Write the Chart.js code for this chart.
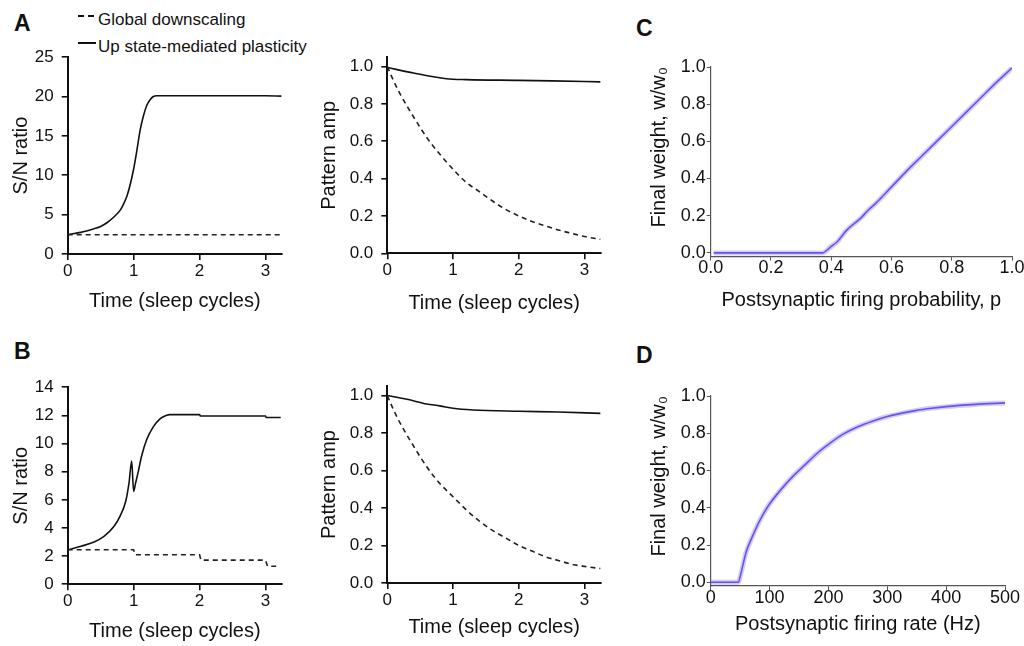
<!DOCTYPE html>
<html>
<head>
<meta charset="utf-8">
<script src="https://cdn.jsdelivr.net/npm/chart.js@4.4.0/dist/chart.umd.min.js"></script>
<style>
  html, body { margin: 0; padding: 0; background: #fff; overflow: hidden; }
  body { width: 1024px; height: 646px; position: relative; font-family: "Liberation Sans", Arial, sans-serif; color: #111; }
  canvas { position: absolute; }
  .letter { position: absolute; font-weight: bold; font-size: 23px; line-height: 1; }
  .leg { position: absolute; font-size: 17px; line-height: 1; white-space: nowrap; }
</style>
</head>
<body>
<div class="letter" style="left:14px;top:12px">A</div>
<div class="letter" style="left:14px;top:340px">B</div>
<div class="letter" style="left:636px;top:17px">C</div>
<div class="letter" style="left:636px;top:344px">D</div>

<div class="leg" style="left:98px;top:11px">Global downscaling</div>
<svg style="position:absolute;left:76px;top:12px" width="22" height="8"><line x1="2" y1="4" x2="20" y2="4" stroke="#111" stroke-width="2" stroke-dasharray="6,4"/></svg>
<div class="leg" style="left:98px;top:38px">Up state-mediated plasticity</div>
<svg style="position:absolute;left:76px;top:39px" width="22" height="8"><line x1="2" y1="4" x2="20" y2="4" stroke="#111" stroke-width="2"/></svg>

<canvas id="aLeft"></canvas>
<canvas id="aRight"></canvas>
<canvas id="bLeft"></canvas>
<canvas id="bRight"></canvas>
<canvas id="cPlot"></canvas>
<canvas id="dPlot"></canvas>

<script>
// ---- data ----
// A, S/N ratio
const timeA_up = [0, 0.1, 0.2, 0.3, 0.4, 0.5, 0.6, 0.7, 0.8, 0.85, 0.9, 0.95, 1.0, 1.05, 1.1, 1.15, 1.2, 1.25, 1.3, 1.35, 1.5, 2.0, 2.5, 3.0, 3.24];
const snA_up = [2.45, 2.6, 2.75, 2.95, 3.2, 3.5, 4.0, 4.7, 5.6, 6.4, 7.4, 8.9, 10.8, 13.2, 15.8, 17.6, 18.9, 19.6, 20.0, 20.1, 20.1, 20.1, 20.1, 20.1, 20.05];
const timeA_global = [0, 1, 2, 3, 3.24];
const snA_global = [2.45, 2.45, 2.45, 2.45, 2.45];

// A, pattern amplitude
const timeA_ampUp = [0, 0.4, 0.9, 1.2, 2.0, 2.5, 3.24];
const ampA_up = [0.995, 0.965, 0.935, 0.93, 0.926, 0.923, 0.918];
const timeAmpGlobal = [0, 0.1, 0.2, 0.4, 0.6, 0.8, 1.0, 1.2, 1.4, 1.6, 1.8, 2.0, 2.2, 2.4, 2.6, 2.8, 3.0, 3.24];
const ampA_global = [1.0, 0.92, 0.85, 0.73, 0.62, 0.53, 0.45, 0.38, 0.33, 0.28, 0.235, 0.2, 0.17, 0.147, 0.125, 0.107, 0.09, 0.075];

// B, S/N ratio
const timeB_up = [0, 0.2, 0.4, 0.55, 0.7, 0.8, 0.88, 0.93, 0.97, 1.0, 1.03, 1.07, 1.12, 1.2, 1.3, 1.4, 1.5, 1.55, 2.0, 2.01, 3.0, 3.01, 3.23];
const snB_up = [2.45, 2.7, 3.0, 3.4, 4.1, 4.9, 5.9, 7.2, 8.75, 6.6, 7.2, 8.0, 9.1, 10.3, 11.2, 11.75, 12.0, 12.05, 12.05, 11.95, 11.95, 11.85, 11.85];
const timeB_global = [0, 1.0, 1.02, 2.0, 2.02, 3.0, 3.03, 3.2];
const snB_global = [2.45, 2.45, 2.1, 2.1, 1.72, 1.72, 1.28, 1.28];

// B, pattern amplitude
const timeB_ampUp = [0, 0.3, 0.6, 0.8, 1.0, 1.3, 2.0, 2.6, 3.24];
const ampB_up = [1.0, 0.98, 0.955, 0.945, 0.932, 0.923, 0.916, 0.912, 0.905];
const ampB_global = [1.0, 0.92, 0.85, 0.73, 0.62, 0.53, 0.46, 0.39, 0.33, 0.28, 0.24, 0.2, 0.17, 0.14, 0.12, 0.1, 0.088, 0.077];

// C, final weight vs firing probability
const probC = [0.01, 0.1, 0.2, 0.3, 0.37, 0.4, 0.42, 0.45, 0.5, 0.52, 0.55, 0.6, 0.65, 0.7, 0.75, 0.8, 0.85, 0.9, 0.95, 1.0];
const weightC = [0, 0, 0, 0, 0, 0.035, 0.06, 0.12, 0.19, 0.225, 0.27, 0.355, 0.44, 0.52, 0.6, 0.68, 0.76, 0.84, 0.92, 0.995];

// D, final weight vs firing rate
const rateD = [0, 20, 47, 50, 60, 70, 80, 90, 100, 120, 140, 160, 180, 200, 225, 250, 275, 300, 325, 350, 375, 400, 450, 500];
const weightD = [0, 0, 0, 0.03, 0.16, 0.24, 0.31, 0.37, 0.42, 0.5, 0.57, 0.63, 0.69, 0.74, 0.795, 0.835, 0.865, 0.89, 0.908, 0.923, 0.934, 0.943, 0.955, 0.963];

// tick labels
const ticksTime = [0, 1, 2, 3];
const ticksSnA = [0, 5, 10, 15, 20, 25];
const ticksSnB = [0, 2, 4, 6, 8, 10, 12, 14];
const ticksAmp = [0, 0.2, 0.4, 0.6, 0.8, 1.0];
const ticksProb = [0, 0.2, 0.4, 0.6, 0.8, 1.0];
const ticksRate = [0, 100, 200, 300, 400, 500];
const ticksWeight = [0, 0.2, 0.4, 0.6, 0.8, 1.0];

const FONT = "'Liberation Sans', Arial, sans-serif";
const BLUE = "#5a48ea";
const BAND = "rgba(125,110,240,0.35)";

function pts(xs, ys) {
  return xs.map((x, i) => ({x: x, y: ys[i]}));
}

function solid(xs, ys) {
  return {data: pts(xs, ys), borderColor: "#111", borderWidth: 1.6, pointRadius: 0, cubicInterpolationMode: "monotone"};
}
function dashed(xs, ys, step) {
  return {data: pts(xs, ys), borderColor: "#222", borderWidth: 1.6, borderDash: [5, 4], pointRadius: 0,
    cubicInterpolationMode: step ? "default" : "monotone", tension: 0};
}
function blue(xs, ys) {
  return [
    {data: pts(xs, ys), borderColor: BAND, borderWidth: 5, pointRadius: 0, cubicInterpolationMode: "monotone"},
    {data: pts(xs, ys), borderColor: BLUE, borderWidth: 1.6, pointRadius: 0, cubicInterpolationMode: "monotone"}
  ];
}

// p: area {l,t,r,b}, yTitleX, xTitleY
function panel(id, p, datasets) {
  const titleHalf = 12;
  const cl = p.yTitleX - titleHalf - 2;
  const ct = p.area.t - 14;
  const cr = p.area.r + (p.padR || 22);
  const cb = p.xTitleY + titleHalf + 2;
  const yW = p.area.l - cl;
  const xH = cb - p.area.b;
  const cv = document.getElementById(id);
  cv.width = Math.round(cr - cl);
  cv.height = Math.round(cb - ct);
  cv.style.left = cl + "px";
  cv.style.top = ct + "px";
  const thin = p.thin;
  const axisColor = thin ? "#555" : "#111";
  const axisWidth = thin ? 1.2 : 2;
  const tickLen = thin ? 4 : 6;
  const tickFont = {family: FONT, size: thin ? 18 : 17};

  new Chart(cv, {
    type: "line",
    data: {datasets: datasets},
    options: {
      responsive: false,
      animation: false,
      layout: {padding: {left: 0, top: 14, right: p.padR || 22, bottom: 0}},
      plugins: {legend: {display: false}, tooltip: {enabled: false}},
      scales: {
        x: {
          type: "linear",
          min: p.xMin, max: p.xMax,
          afterBuildTicks: s => { s.ticks = p.xTicks.map(v => ({value: v})); },
          afterFit: s => { s.height = xH; },
          border: {display: true, color: axisColor, width: axisWidth},
          grid: {drawOnChartArea: false, drawTicks: true, tickLength: tickLen, color: axisColor, lineWidth: thin ? 1 : 1.6},
          ticks: {font: tickFont, color: "#111", padding: thin ? -3 : 1, maxRotation: 0, autoSkip: false,
            callback: v => p.xFmt(v)},
          title: {display: true, text: p.xTitle, color: "#111", font: {family: FONT, size: 20}, padding: {top: 2, bottom: 2}}
        },
        y: {
          type: "linear",
          min: p.yMin, max: p.yMax,
          afterBuildTicks: s => { s.ticks = p.yTicks.map(v => ({value: v})); },
          afterFit: s => { s.width = yW; },
          border: {display: true, color: axisColor, width: axisWidth},
          grid: {drawOnChartArea: false, drawTicks: true, tickLength: tickLen, color: axisColor, lineWidth: thin ? 1 : 1.6},
          ticks: {font: tickFont, color: "#111", padding: thin ? 1 : 8, callback: v => p.yFmt(v)},
          title: {display: true, text: p.yTitle, color: "#111", font: {family: FONT, size: 20},
            padding: {top: 2, bottom: 2}, align: p.yAlign || "center"}
        }
      }
    }
  });
}

const intFmt = v => String(Math.round(v));
const oneDec = v => v.toFixed(1);

panel("aLeft", {
  area: {l: 67.7, t: 52.7, r: 281.7, b: 254}, yTitleX: 21, xTitleY: 301,
  xMin: 0, xMax: 3.25, yMin: 0, yMax: 25, xTicks: ticksTime, yTicks: ticksSnA,
  xFmt: intFmt, yFmt: intFmt, xTitle: "Time (sleep cycles)", yTitle: "S/N ratio"
}, [dashed(timeA_global, snA_global, true), solid(timeA_up, snA_up)]);

panel("aRight", {
  area: {l: 387.3, t: 52.5, r: 601, b: 252.3}, yTitleX: 329, xTitleY: 302,
  xMin: 0, xMax: 3.25, yMin: 0, yMax: 1.05, xTicks: ticksTime, yTicks: ticksAmp,
  xFmt: intFmt, yFmt: oneDec, xTitle: "Time (sleep cycles)", yTitle: "Pattern amp"
}, [dashed(timeAmpGlobal, ampA_global), solid(timeA_ampUp, ampA_up)]);

panel("bLeft", {
  area: {l: 67.7, t: 382.7, r: 281.7, b: 584}, yTitleX: 21, xTitleY: 630.7,
  xMin: 0, xMax: 3.25, yMin: 0, yMax: 14, xTicks: ticksTime, yTicks: ticksSnB,
  xFmt: intFmt, yFmt: intFmt, xTitle: "Time (sleep cycles)", yTitle: "S/N ratio"
}, [dashed(timeB_global, snB_global, true), solid(timeB_up, snB_up)]);

panel("bRight", {
  area: {l: 387.3, t: 382.4, r: 601, b: 583.3}, yTitleX: 329, xTitleY: 627.4,
  xMin: 0, xMax: 3.25, yMin: 0, yMax: 1.05, xTicks: ticksTime, yTicks: ticksAmp,
  xFmt: intFmt, yFmt: oneDec, xTitle: "Time (sleep cycles)", yTitle: "Pattern amp"
}, [dashed(timeAmpGlobal, ampB_global), solid(timeB_ampUp, ampB_up)]);

panel("cPlot", {
  area: {l: 710.7, t: 67.3, r: 1012, b: 257.3}, yTitleX: 659, xTitleY: 300.7, padR: 12, thin: true,
  xMin: 0, xMax: 1, yMin: -0.02, yMax: 1.0, xTicks: ticksProb, yTicks: ticksWeight, yAlign: "end",
  xFmt: oneDec, yFmt: oneDec, xTitle: "Postsynaptic firing probability, p", yTitle: "Final weight, w/w\u2080"
}, blue(probC, weightC));

panel("dPlot", {
  area: {l: 710.7, t: 395.7, r: 1005, b: 586}, yTitleX: 659, xTitleY: 624, padR: 19, thin: true,
  xMin: 0, xMax: 500, yMin: -0.02, yMax: 1.0, xTicks: ticksRate, yTicks: ticksWeight, yAlign: "end",
  xFmt: intFmt, yFmt: oneDec, xTitle: "Postsynaptic firing rate (Hz)", yTitle: "Final weight, w/w\u2080"
}, blue(rateD, weightD));
</script>
</body>
</html>
